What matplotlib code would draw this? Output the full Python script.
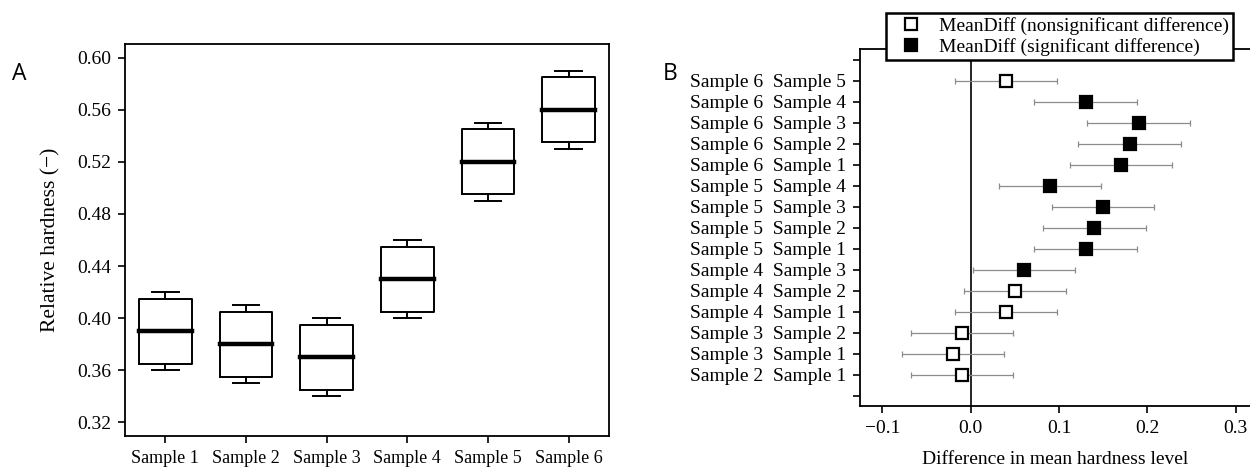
import matplotlib.pyplot as plt
import numpy as np

plt.rcParams['font.family'] = ['Liberation Serif', 'DejaVu Serif']

# --- panel A: box statistics ---
samples = ["Sample 1", "Sample 2", "Sample 3", "Sample 4", "Sample 5", "Sample 6"]
whislo = [0.36, 0.35, 0.34, 0.40, 0.49, 0.53]
q1 = [0.365, 0.355, 0.345, 0.405, 0.495, 0.535]
med = [0.39, 0.38, 0.37, 0.43, 0.52, 0.56]
q3 = [0.415, 0.405, 0.395, 0.455, 0.545, 0.585]
whishi = [0.42, 0.41, 0.40, 0.46, 0.55, 0.59]

# --- panel B: pairwise mean differences, bottom row first ---
pair_a = ["Sample 2", "Sample 3", "Sample 3", "Sample 4", "Sample 4", "Sample 4",
          "Sample 5", "Sample 5", "Sample 5", "Sample 5",
          "Sample 6", "Sample 6", "Sample 6", "Sample 6", "Sample 6"]
pair_b = ["Sample 1", "Sample 1", "Sample 2", "Sample 1", "Sample 2", "Sample 3",
          "Sample 1", "Sample 2", "Sample 3", "Sample 4",
          "Sample 1", "Sample 2", "Sample 3", "Sample 4", "Sample 5"]
mean_diff = np.array([-0.01, -0.02, -0.01, 0.04, 0.05, 0.06, 0.13, 0.14, 0.15, 0.09,
                      0.17, 0.18, 0.19, 0.13, 0.04])
ci_low = np.array([-0.068, -0.078, -0.068, -0.018, -0.008, 0.002, 0.072, 0.082, 0.092, 0.032,
                   0.112, 0.122, 0.132, 0.072, -0.018])
ci_high = np.array([0.048, 0.038, 0.048, 0.098, 0.108, 0.118, 0.188, 0.198, 0.208, 0.148,
                    0.228, 0.238, 0.248, 0.188, 0.098])
significant = np.array([False, False, False, False, False, True, True, True, True, True,
                        True, True, True, True, False])

W, H = 1250, 470
fig = plt.figure(figsize=(W / 100, H / 100), dpi=100)

# =========================================================
# PANEL A: boxplots
# =========================================================
axA = fig.add_axes([125 / W, 1 - 436 / H, (609 - 125) / W, (436 - 44) / H])

stats = []
for s, lo, a, m, b, hi in zip(samples, whislo, q1, med, q3, whishi):
    stats.append(dict(label=s, whislo=lo, q1=a, med=m, q3=b, whishi=hi))

axA.bxp(stats, positions=np.arange(1, 7), widths=0.65, capwidths=0.33, showfliers=False,
        boxprops=dict(color='black', lw=1.4),
        medianprops=dict(color='black', lw=3.2, solid_capstyle='projecting'),
        whiskerprops=dict(color='black', lw=1.4),
        capprops=dict(color='black', lw=1.4))

axA.set_xlim(0.5, 6.5)
axA.set_ylim(0.3095, 0.6105)
axA.set_yticks(np.arange(0.32, 0.601, 0.04))
axA.set_yticklabels([f"{v:.2f}" for v in np.arange(0.32, 0.601, 0.04)], fontsize=14)
axA.set_xticks(np.arange(1, 7))
axA.set_xticklabels(samples, fontsize=13)
axA.tick_params(direction='out', length=5, width=1.2, pad=5)
for sp in axA.spines.values():
    sp.set_linewidth(1.3)
axA.set_ylabel("Relative hardness (\u2212)", fontsize=15.5, labelpad=12)

fig.text(12 / W, 1 - 80 / H, "A", family='Open Sans', fontsize=16.5, va='baseline')

# =========================================================
# PANEL B: mean differences with confidence intervals
# =========================================================
axB = fig.add_axes([860 / W, 1 - 406 / H, (W - 860) / W, (406 - 49) / H])

y = np.arange(1, len(mean_diff) + 1)
axB.axvline(0, color='black', lw=1.2, zorder=1)
axB.errorbar(mean_diff, y, xerr=[mean_diff - ci_low, ci_high - mean_diff], fmt='none',
             ecolor='#8c8c8c', elinewidth=0.9, capsize=2.5, capthick=0.9, zorder=2)
axB.plot(mean_diff[~significant], y[~significant], 's', ms=8.5, mfc='white', mec='black',
         mew=1.6, ls='none', label='MeanDiff (nonsignificant difference)', zorder=3)
axB.plot(mean_diff[significant], y[significant], 's', ms=8.5, mfc='black', mec='black',
         mew=1.6, ls='none', label='MeanDiff (significant difference)', zorder=3)

axB.set_xlim(-0.1254, 0.3162)
axB.set_ylim(-0.5, len(mean_diff) + 1.5)
axB.set_yticks(np.arange(0, len(mean_diff) + 2))
axB.set_yticklabels([""] + [f"{a}  {b}" for a, b in zip(pair_a, pair_b)] + [""], fontsize=14)
axB.set_xticks([-0.1, 0.0, 0.1, 0.2, 0.3])
axB.set_xticklabels(["\u22120.1", "0.0", "0.1", "0.2", "0.3"], fontsize=14)
axB.tick_params(direction='out', length=5, width=1.2, pad=5)
axB.spines['right'].set_visible(False)
for sp in ['left', 'top', 'bottom']:
    axB.spines[sp].set_linewidth(1.3)
axB.set_xlabel("Difference in mean hardness level", fontsize=14, labelpad=10)

leg = fig.legend(loc='upper left', bbox_to_anchor=(885.7 / W, 1 - 13 / H),
                 bbox_transform=fig.transFigure, borderaxespad=0, fontsize=14,
                 frameon=True, fancybox=False, edgecolor='black', framealpha=1,
                 borderpad=0.2, labelspacing=0.15, handlelength=2.2, handletextpad=0.35)
leg.get_frame().set_linewidth(1.8)

fig.text(663 / W, 1 - 80 / H, "B", family='Open Sans', fontsize=16.5, va='baseline')

fig.savefig("out.png", dpi=100)
